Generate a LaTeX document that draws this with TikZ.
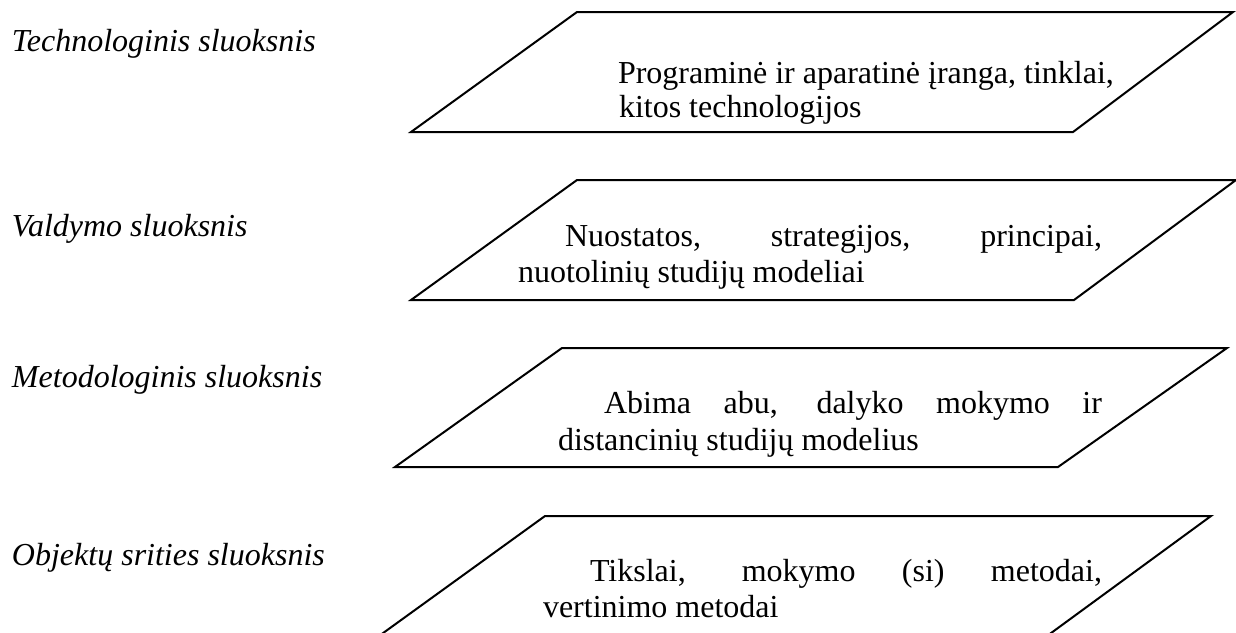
\documentclass[tikz,border=0pt]{standalone}
\usepackage{fontspec}
\setmainfont{Liberation Serif}
\begin{document}
\begin{tikzpicture}[x=1pt,y=-1pt,
  layer/.style={draw=black,line width=2pt,line join=miter},
  txt/.style={anchor=base west,inner sep=0pt,outer sep=0pt,font=\fontsize{32}{37}\selectfont},
  lbl/.style={anchor=base west,inner sep=0pt,outer sep=0pt,font=\fontsize{32}{37}\selectfont\itshape}]
\useasboundingbox (0,0) rectangle (1236,632);
\clip (0,0) rectangle (1236,632);

% layer names on the left
\node[lbl] (l1) at (12,51)  {Technologinis sluoksnis};
\node[lbl] (l2) at (12,236) {Valdymo sluoksnis};
\node[lbl] (l3) at (12,387) {Metodologinis sluoksnis};
\node[lbl] (l4) at (12,565) {Objektų srities sluoksnis};

% parallelogram layers
\draw[layer] (411,132) -- (577,12) -- (1233,12) -- (1073,132) -- cycle;
\draw[layer] (411,300) -- (577,180) -- (1236,180) -- (1074,300) -- cycle;
\draw[layer] (395,467) -- (562,348) -- (1227,348) -- (1058,467) -- cycle;
\draw[layer] (379,636) -- (545,516) -- (1211,516) -- (1047,636) -- cycle;

% layer contents
\node[txt] (t1a) at (618,83)  {Programinė ir aparatinė įranga, tinklai,};
\node[txt] (t1b) at (619,117) {kitos technologijos};

\node[txt] (t2a) at (565,246) {\makebox[537pt][s]{Nuostatos, strategijos, principai,}};
\node[txt] (t2b) at (518,282) {nuotolinių studijų modeliai};

\node[txt] (t3a) at (604,413) {\makebox[498pt][s]{Abima abu, dalyko mokymo ir}};
\node[txt] (t3b) at (558,450) {distancinių studijų modelius};

\node[txt] (t4a) at (590,581) {\makebox[512pt][s]{Tikslai, mokymo (si) metodai,}};
\node[txt] (t4b) at (543,617) {vertinimo metodai};
\end{tikzpicture}
\end{document}
